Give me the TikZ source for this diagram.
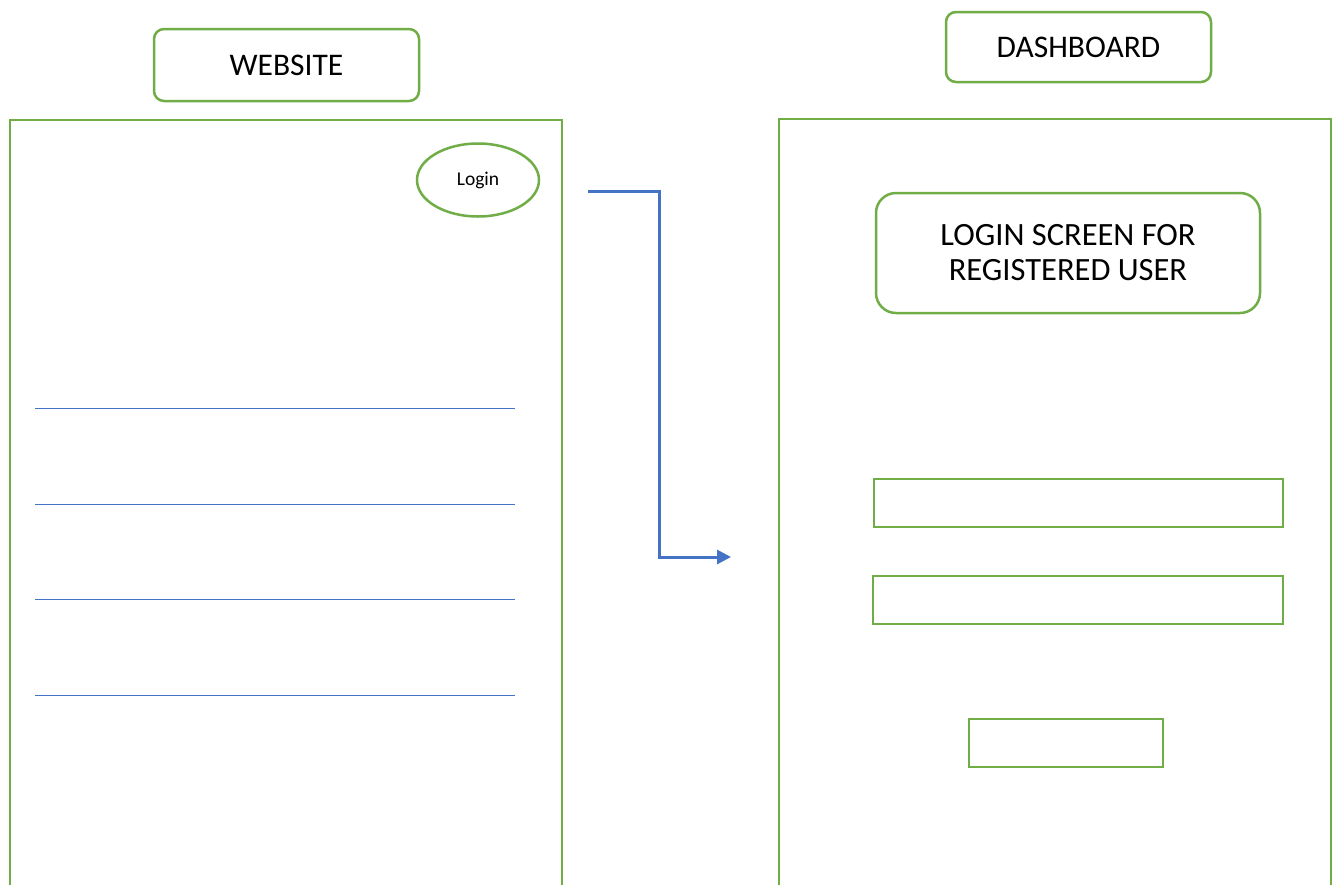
\documentclass[tikz,border=0pt]{standalone}
\usepackage{fontspec}
\setmainfont{Carlito}
\usetikzlibrary{arrows.meta,shapes.geometric}
\definecolor{gr}{HTML}{70AD47}
\definecolor{bl}{HTML}{4472C4}
\tikzset{
  gbox/.style={draw=gr, line width=2.5pt, rounded corners=10pt, inner sep=0pt, font=\fontsize{31.5}{35}\selectfont, align=center},
  field/.style={draw=gr, line width=2.5pt, inner sep=0pt},
  frame/.style={draw=gr, line width=2.5pt},
  sep/.style={draw=bl, line width=1pt},
  flow/.style={draw=bl, line width=3pt, -{Triangle[length=14pt,width=14pt]}}
}
\begin{document}
\begin{tikzpicture}[x=1pt,y=-1pt]
\useasboundingbox (0,0) rectangle (1338,884);
\fill[white] (0,0) rectangle (1338,884);
% frames
\draw[frame] (10,910) -- (10,120) -- (562,120) -- (562,910);
\draw[frame] (779,910) -- (779,119) -- (1331,119) -- (1331,910);
% titles
\node[gbox, minimum width=265pt, minimum height=72pt] (web) at (286.5,65) {WEBSITE};
\node[gbox, minimum width=265pt, minimum height=70pt] (dash) at (1078.5,47) {DASHBOARD};
% login ellipse
\node[draw=gr, line width=2.5pt, ellipse, minimum width=122pt, minimum height=73pt, inner sep=0pt, font=\fontsize{19.5}{23}\selectfont] (login) at (478,180) {Login};
% separator lines
\coordinate (l1a) at (35,408); \coordinate (l1b) at (515,408);
\coordinate (l2a) at (35,504); \coordinate (l2b) at (515,504);
\coordinate (l3a) at (35,599); \coordinate (l3b) at (515,599);
\coordinate (l4a) at (35,695); \coordinate (l4b) at (515,695);
\draw[sep] (l1a) -- (l1b);
\draw[sep] (l2a) -- (l2b);
\draw[sep] (l3a) -- (l3b);
\draw[sep] (l4a) -- (l4b);
% arrow
\coordinate (as) at (588,191);
\coordinate (ae) at (731,557);
\draw[flow] (as) -- (659,191) -- (659,557) -- (ae);
% dashboard contents
\node[gbox, rounded corners=20pt, minimum width=384pt, minimum height=120pt, font=\fontsize{32.5}{35}\selectfont] (screen) at (1068,253) {LOGIN SCREEN FOR\\REGISTERED USER};
\node[field, minimum width=409pt, minimum height=48pt] (user) at (1078.5,503) {};
\node[field, minimum width=410pt, minimum height=48pt] (pass) at (1078,600) {};
\node[field, minimum width=194pt, minimum height=48pt] (btn) at (1066,743) {};
\end{tikzpicture}
\end{document}
